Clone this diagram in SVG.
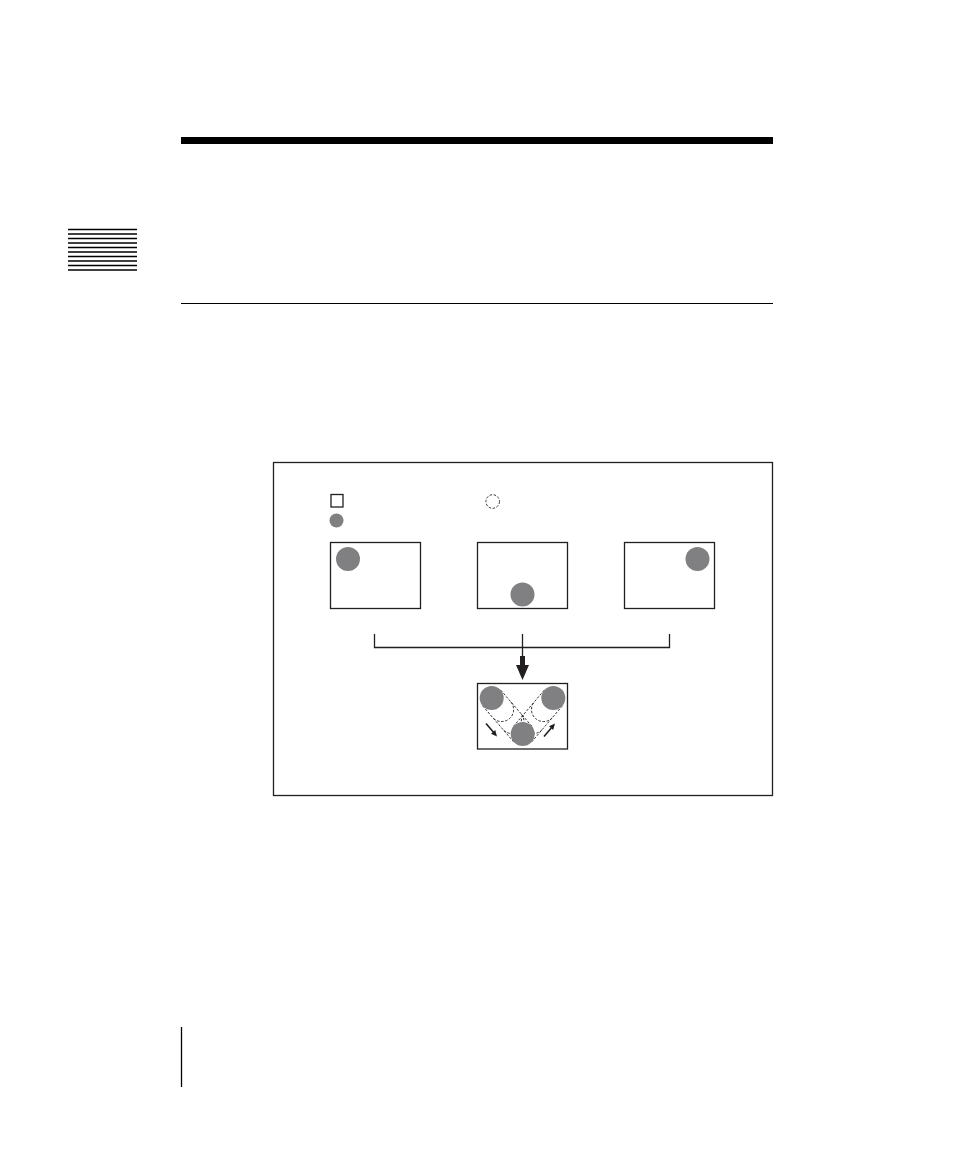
<svg xmlns="http://www.w3.org/2000/svg" width="954" height="1165" viewBox="0 0 954 1165">
<style>
.frame{fill:#fff;stroke:#231f20;stroke-width:1.3}
.ball{fill:#808083}
.dash{fill:none;stroke:#231f20;stroke-width:0.9;stroke-dasharray:2.5 1.6}
.line{stroke:#231f20;stroke-width:1.3;fill:none}
.stripe{stroke:#000;stroke-width:1.3}
.ink{fill:#231f20}
</style>
<rect width="954" height="1165" fill="#fff"/>
<g id="page">
<rect x="181" y="137" width="592" height="7" fill="#000"/>
<line x1="181" y1="303.5" x2="773" y2="303.5" stroke="#000" stroke-width="1"/>
<g id="stripes">
<line class="stripe" x1="68" y1="229.5" x2="137" y2="229.5"/>
<line class="stripe" x1="68" y1="234" x2="137" y2="234"/>
<line class="stripe" x1="68" y1="238.5" x2="137" y2="238.5"/>
<line class="stripe" x1="68" y1="243" x2="137" y2="243"/>
<line class="stripe" x1="68" y1="247.5" x2="137" y2="247.5"/>
<line class="stripe" x1="68" y1="252" x2="137" y2="252"/>
<line class="stripe" x1="68" y1="256.5" x2="137" y2="256.5"/>
<line class="stripe" x1="68" y1="261" x2="137" y2="261"/>
<line class="stripe" x1="68" y1="265.5" x2="137" y2="265.5"/>
<line class="stripe" x1="68" y1="270" x2="137" y2="270"/>
</g>
<line x1="181.5" y1="1027" x2="181.5" y2="1087" stroke="#000" stroke-width="1.3"/>
</g>
<rect id="outer" x="273.5" y="462.5" width="499" height="333" fill="none" stroke="#231f20" stroke-width="1.3"/>
<g id="legend">
<rect x="331" y="494.5" width="12" height="12.5" class="frame"/>
<circle cx="336.5" cy="520.5" r="7" class="ball"/>
<circle cx="492.7" cy="501.5" r="6.8" class="dash"/>
</g>
<g id="frame1">
<rect x="330.5" y="542.5" width="90" height="66" class="frame"/>
<circle cx="348" cy="559" r="12" class="ball"/>
</g>
<g id="frame2">
<rect x="477.5" y="542.5" width="90" height="66" class="frame"/>
<circle cx="522.5" cy="594.5" r="12" class="ball"/>
</g>
<g id="frame3">
<rect x="624.5" y="542.5" width="90" height="66" class="frame"/>
<circle cx="697.5" cy="559" r="12" class="ball"/>
</g>
<g id="connectors">
<path class="line" d="M374.5,634 V647.5 H669.5 V634"/>
<line class="line" x1="522.5" y1="634" x2="522.5" y2="656"/>
<rect x="520" y="656" width="5" height="10" class="ink"/>
<path d="M516,665 L529,665 L522.5,680 z" class="ink"/>
</g>
<g id="result">
<rect x="477.5" y="683.5" width="90" height="65.5" class="frame"/>
<line class="dash" x1="500.8" y1="690.2" x2="531.8" y2="726.2"/>
<line class="dash" x1="482.6" y1="705.8" x2="513.6" y2="741.8"/>
<line class="dash" x1="562.4" y1="705.8" x2="531.8" y2="741.8"/>
<line class="dash" x1="544.2" y1="690.2" x2="513.6" y2="726.2"/>
<path class="dash" d="M511.1,702.2 A12,12 0 0 1 492.9,717.8"/>
<path class="dash" d="M521.4,714.2 A12,12 0 0 1 503.2,729.8"/>
<path class="dash" d="M552.2,717.8 A12,12 0 0 1 534.0,702.2"/>
<path class="dash" d="M542.0,729.8 A12,12 0 0 1 523.8,714.2"/>
<circle cx="491.7" cy="698" r="12" class="ball"/>
<circle cx="553.3" cy="698" r="12" class="ball"/>
<circle cx="522.7" cy="734" r="12" class="ball"/>
<line x1="486" y1="723.5" x2="493.5" y2="732.3" stroke="#231f20" stroke-width="1.6"/>
<path d="M497,736.5 L495.2,730.1 L491.0,733.7 z" class="ink"/>
<line x1="544" y1="736.5" x2="551.5" y2="727.7" stroke="#231f20" stroke-width="1.6"/>
<path d="M555,723.5 L553.2,729.9 L549.0,726.3 z" class="ink"/>
</g>
</svg>
